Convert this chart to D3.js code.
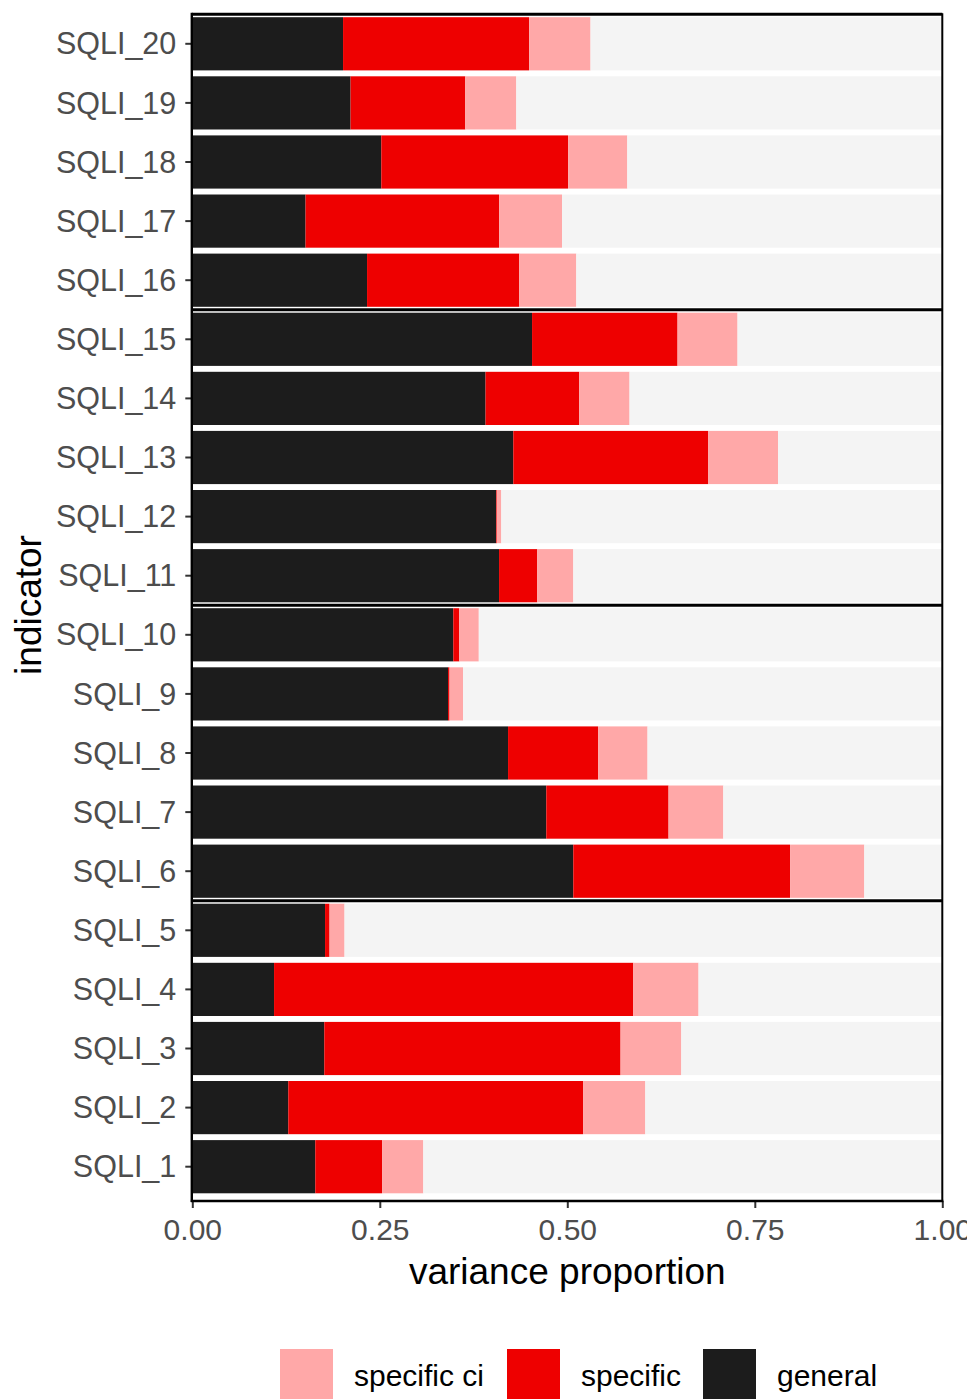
<!DOCTYPE html>
<html>
<head>
<meta charset="utf-8">
<script src="https://cdn.jsdelivr.net/npm/d3@7"></script>
<style>
  html, body { margin: 0; padding: 0; background: #ffffff; }
  svg { display: block; font-family: "Liberation Sans", Arial, sans-serif; }
</style>
</head>
<body>
<svg id="chart" width="967" height="1399"></svg>
<script>
// Indicators, listed bottom to top
const indicators = ["SQLI_1","SQLI_2","SQLI_3","SQLI_4","SQLI_5","SQLI_6","SQLI_7","SQLI_8","SQLI_9","SQLI_10",
                    "SQLI_11","SQLI_12","SQLI_13","SQLI_14","SQLI_15","SQLI_16","SQLI_17","SQLI_18","SQLI_19","SQLI_20"];
// Variance components per indicator (same order as above)
const general    = [0.164,0.128,0.176,0.109,0.177,0.508,0.472,0.421,0.341,0.348,
                    0.409,0.405,0.428,0.391,0.453,0.233,0.151,0.252,0.211,0.201];
const specific   = [0.089,0.393,0.395,0.479,0.006,0.289,0.163,0.120,0.002,0.008,
                    0.051,0.001,0.260,0.125,0.194,0.203,0.258,0.249,0.153,0.248];
const specificCi = [0.055,0.083,0.081,0.087,0.020,0.099,0.073,0.066,0.018,0.026,
                    0.048,0.006,0.093,0.067,0.080,0.076,0.084,0.079,0.068,0.082];
// Indicator blocks are separated by rules above these indicators
const blockStarts = ["SQLI_20","SQLI_15","SQLI_10","SQLI_5"];
const xTicks = [0, 0.25, 0.5, 0.75, 1];
const legendKeys = ["specific ci", "specific", "general"];

const colors = { "general": "#1c1c1c", "specific": "#ee0000", "specific ci": "#ffa8a8", "rest": "#f4f4f4" };

const rows = indicators.map((id, i) => ({
  indicator: id,
  "general": general[i],
  "specific": specific[i],
  "specific ci": specificCi[i],
  "rest": Math.max(0, 1 - general[i] - specific[i] - specificCi[i])
}));

const svg = d3.select("#chart");
const plotLeft = 192.3, plotRight = 942.3, plotTop = 14.25, bandBottom = 1196.25, axisY = 1201;

const x = d3.scaleLinear().domain([0, 1]).range([plotLeft, plotRight]);
const y = d3.scaleBand()
  .domain(indicators.slice().reverse())
  .range([plotTop, bandBottom])
  .paddingInner(0.1)
  .paddingOuter(0.05);

const stack = d3.stack().keys(["general", "specific", "specific ci", "rest"]);
const series = stack(rows);

svg.append("g").selectAll("g")
  .data(series)
  .join("g")
  .attr("fill", d => colors[d.key])
  .selectAll("rect")
  .data(d => d)
  .join("rect")
  .attr("x", d => x(d[0]))
  .attr("width", d => Math.max(0, x(d[1]) - x(d[0])))
  .attr("y", d => y(d.data.indicator))
  .attr("height", y.bandwidth());

// block separators and top rule
const step = y.step();
svg.append("g").selectAll("line")
  .data(blockStarts)
  .join("line")
  .attr("x1", plotLeft).attr("x2", plotRight)
  .attr("y1", d => y(d) - step * 0.05)
  .attr("y2", d => y(d) - step * 0.05)
  .attr("stroke", "#000").attr("stroke-width", 3);

// right rule at x = 1
svg.append("line")
  .attr("x1", x(1)).attr("x2", x(1))
  .attr("y1", plotTop - 1).attr("y2", axisY)
  .attr("stroke", "#000").attr("stroke-width", 2);

// y axis
const yAxis = svg.append("g")
  .attr("transform", `translate(${plotLeft},0)`)
  .call(d3.axisLeft(y).tickSize(7).tickPadding(9));
yAxis.select(".domain").remove();
yAxis.selectAll(".tick line").attr("stroke", "#333").attr("stroke-width", 2);
yAxis.selectAll(".tick text").attr("fill", "#4d4d4d").attr("font-size", 30.5)
  .attr("font-family", "Liberation Sans, Arial, sans-serif").attr("dy", "0.35em");
svg.append("line")
  .attr("x1", plotLeft - 0.5).attr("x2", plotLeft - 0.5)
  .attr("y1", plotTop - 1.5).attr("y2", axisY + 1)
  .attr("stroke", "#000").attr("stroke-width", 2.4);

// x axis
const xAxis = svg.append("g")
  .attr("transform", `translate(0,${axisY})`)
  .call(d3.axisBottom(x).tickValues(xTicks).tickFormat(d3.format(".2f")).tickSize(7).tickPadding(10));
xAxis.select(".domain").remove();
xAxis.selectAll(".tick line").attr("stroke", "#333").attr("stroke-width", 2);
xAxis.selectAll(".tick text").attr("fill", "#4d4d4d").attr("font-size", 30)
  .attr("font-family", "Liberation Sans, Arial, sans-serif").attr("dy", "0.72em");
svg.append("line")
  .attr("x1", plotLeft - 1.5).attr("x2", plotRight + 1)
  .attr("y1", axisY).attr("y2", axisY)
  .attr("stroke", "#000").attr("stroke-width", 2.6);

// axis titles
svg.append("text")
  .attr("x", (plotLeft + plotRight) / 2).attr("y", 1284)
  .attr("text-anchor", "middle").attr("font-size", 37).attr("fill", "#000")
  .text("variance proportion");
svg.append("text")
  .attr("transform", "translate(41,605) rotate(-90)")
  .attr("text-anchor", "middle").attr("font-size", 37).attr("fill", "#000")
  .text("indicator");

// legend
const legendX = [280, 507, 703];
const legend = svg.append("g").selectAll("g")
  .data(legendKeys)
  .join("g")
  .attr("transform", (d, i) => `translate(${legendX[i]},1349)`);
legend.append("rect")
  .attr("width", 53).attr("height", 53)
  .attr("fill", d => colors[d]);
legend.append("text")
  .attr("x", 74).attr("y", 37)
  .attr("font-size", 30).attr("fill", "#000")
  .text(d => d);
</script>
</body>
</html>
